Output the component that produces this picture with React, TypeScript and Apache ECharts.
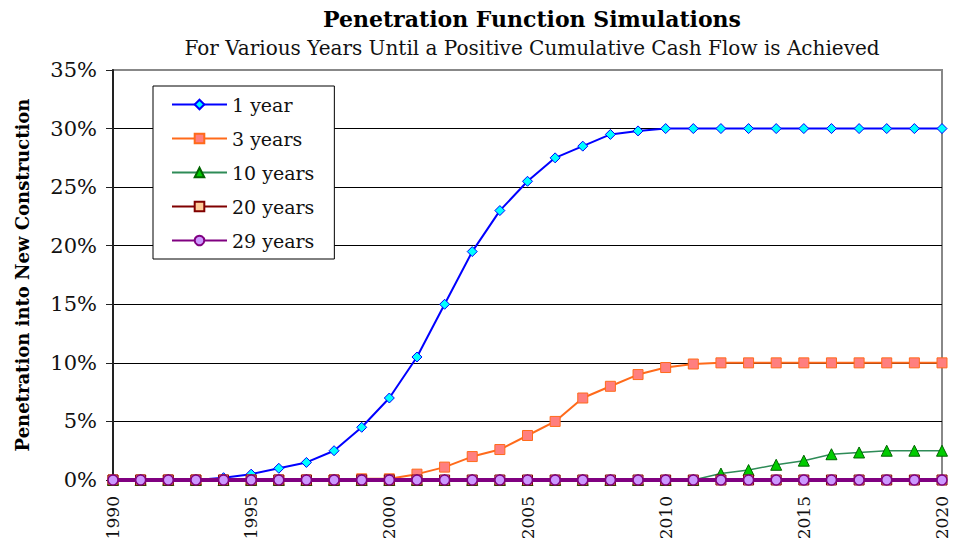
import React, { useEffect, useRef } from "react";
import * as echarts from "echarts";

const years: number[] = [];
for (let y = 1990; y <= 2020; y++) years.push(y);

const oneYear = [0, 0, 0, 0, 0.2, 0.5, 1.0, 1.5, 2.5, 4.5, 7.0, 10.5, 15.0, 19.5, 23.0, 25.5, 27.5, 28.5, 29.5, 29.8, 30, 30, 30, 30, 30, 30, 30, 30, 30, 30, 30];
const threeYears = [0, 0, 0, 0, 0, 0, 0, 0, 0, 0.1, 0.1, 0.5, 1.1, 2.0, 2.6, 3.8, 5.0, 7.0, 8.0, 9.0, 9.6, 9.9, 10, 10, 10, 10, 10, 10, 10, 10, 10];
const tenYears = [0, 0, 0, 0, 0, 0, 0, 0, 0, 0, 0, 0, 0, 0, 0, 0, 0, 0, 0, 0, 0, 0, 0.55, 0.85, 1.3, 1.65, 2.2, 2.35, 2.5, 2.5, 2.5];
const twentyYears = years.map(() => 0);
const twentyNineYears = years.map(() => 0);

const seriesNames = ["1 year", "3 years", "10 years", "20 years", "29 years"];

const FONT = "'DejaVu Serif', 'Liberation Serif', serif";

export default function App() {
  const ref = useRef<HTMLDivElement>(null);
  useEffect(() => {
    document.body.style.margin = "0";
    if (!ref.current) return;
    const chart = echarts.init(ref.current, undefined, { renderer: "svg" });
    const pairs = (arr: number[]) => years.map((y, i) => [y, arr[i]]);
    chart.setOption({
      animation: false,
      backgroundColor: "#fff",
      textStyle: { fontFamily: FONT },
      title: {
        text: "Penetration Function Simulations",
        subtext: "For Various Years Until a Positive Cumulative Cash Flow is Achieved",
        left: 527,
        top: 3,
        textAlign: "center",
        itemGap: 8,
        textStyle: { fontFamily: FONT, fontSize: 22, fontWeight: "bold", color: "#000" },
        subtextStyle: { fontFamily: FONT, fontSize: 20, color: "#111" },
      },
      legend: {
        orient: "vertical",
        left: 153,
        top: 86,
        padding: [8, 20, 8, 18],
        itemWidth: 55,
        itemHeight: 12,
        itemGap: 13,
        backgroundColor: "#fff",
        borderColor: "#000",
        borderWidth: 1,
        textStyle: { fontFamily: FONT, fontSize: 19, color: "#111", lineHeight: 21 },
        data: seriesNames,
      },
      grid: {
        left: 113,
        right: 13,
        top: 70,
        bottom: 70,
        show: true,
        borderColor: "#888",
        borderWidth: 2,
        backgroundColor: "transparent",
      },
      xAxis: {
        type: "value",
        min: 1990,
        max: 2020,
        interval: 5,
        axisLine: { show: true, lineStyle: { color: "#000", width: 1 } },
        axisTick: { show: false },
        splitLine: { show: false },
        axisLabel: {
          rotate: 90,
          margin: 16,
          fontSize: 17,
          fontFamily: FONT,
          color: "#111",
          formatter: (v: number) => String(v),
        },
      },
      yAxis: {
        type: "value",
        min: 0,
        max: 35,
        interval: 5,
        name: "Penetration into New Construction",
        nameLocation: "middle",
        nameGap: 82,
        nameTextStyle: { fontFamily: FONT, fontSize: 18, fontWeight: "bold", color: "#000" },
        axisLine: { show: true, lineStyle: { color: "#222", width: 2 } },
        axisTick: { show: true, inside: false, length: 7, lineStyle: { color: "#222" } },
        axisLabel: { fontSize: 21, fontFamily: FONT, color: "#111", margin: 16, formatter: "{value}%" },
        splitLine: {
          show: true,
          lineStyle: { color: ["#000", "#000", "#000", "#000", "#000", "#000", "#000", "transparent"], width: 1 },
        },
      },
      series: [
        {
          name: "1 year",
          type: "line",
          data: pairs(oneYear),
          symbol: "diamond",
          symbolSize: 10,
          lineStyle: { color: "#0000FF", width: 2 },
          itemStyle: { color: "#00FFFF", borderColor: "#0000FF", borderWidth: 1 },
          z: 3,
        },
        {
          name: "3 years",
          type: "line",
          data: pairs(threeYears),
          symbol: "rect",
          symbolSize: 10,
          lineStyle: { color: "#FF6A1A", width: 2 },
          itemStyle: { color: "#FF7F7F", borderColor: "#FF6A1A", borderWidth: 1 },
          z: 4,
        },
        {
          name: "10 years",
          type: "line",
          data: pairs(tenYears),
          symbol: "triangle",
          symbolSize: 11,
          lineStyle: { color: "#2E8B57", width: 1.5 },
          itemStyle: { color: "#00CC00", borderColor: "#006400", borderWidth: 1 },
          z: 5,
        },
        {
          name: "20 years",
          type: "line",
          data: pairs(twentyYears),
          symbol: "rect",
          symbolSize: 10,
          lineStyle: { color: "#800000", width: 2 },
          itemStyle: { color: "#FFCC99", borderColor: "#800000", borderWidth: 1 },
          z: 6,
        },
        {
          name: "29 years",
          type: "line",
          data: pairs(twentyNineYears),
          symbol: "circle",
          symbolSize: 10,
          lineStyle: { color: "#800080", width: 4 },
          itemStyle: { color: "#CC99FF", borderColor: "#800080", borderWidth: 1.5 },
          z: 7,
        },
      ],
    });
    return () => chart.dispose();
  }, []);
  return <div ref={ref} style={{ width: 955, height: 550 }} />;
}
